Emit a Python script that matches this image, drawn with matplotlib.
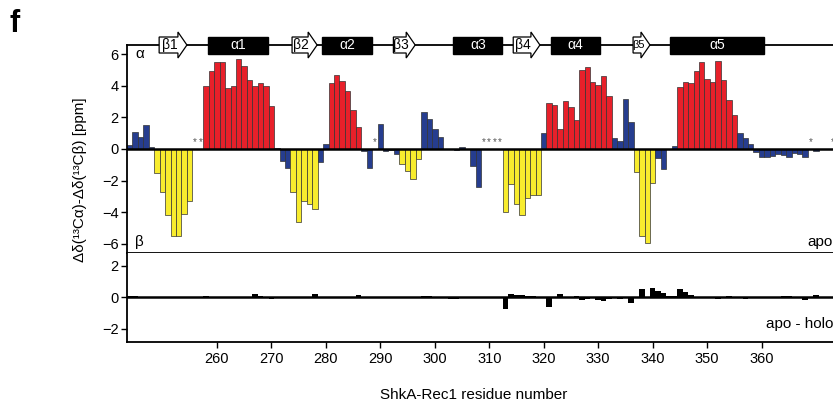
import matplotlib
matplotlib.use("Agg")
import matplotlib.pyplot as plt
import matplotlib.transforms as mtransforms
from matplotlib.patches import Polygon, Rectangle

plt.rcParams['font.family'] = ['Liberation Sans', 'DejaVu Sans']

# secondary chemical shifts (apo), residue -> value, class a=helix b=strand c=other
res_top = list(range(244, 256)) + list(range(258, 289)) + list(range(290, 302)) + [304, 305, 307, 308] \
    + list(range(313, 343)) + list(range(344, 369)) + [370]
shift_top = [0.25, 1.1, 0.78, 1.5, 0.1, -1.54, -2.74, -4.18, -5.5, -5.5, -4.1, -3.27,
             4.0, 4.96, 5.53, 5.49, 3.84, 4.0, 5.74, 5.27, 4.41, 4.0, 4.22, 4.0, 2.76,
             0.05, -0.76, -1.22, -2.74, -4.66, -3.27, -3.5, -3.8, -0.84, 0.32,
             4.22, 4.68, 4.32, 3.67, 2.47, 1.37, -0.13, -1.18,
             1.56, -0.1, -0.05, -0.34, -0.97, -1.37, -1.9, -0.65, 2.32, 1.9, 1.24, 0.74,
             -0.05, 0.1, -1.05, -2.43,
             -4.0, -2.24, -3.46, -4.18, -3.1, -2.95, -2.95, 0.99,
             2.95, 2.78, 1.24, 3.04, 2.68, 1.84, 5.0, 5.2, 4.26, 4.05, 4.62, 3.38,
             0.68, 0.51, 3.16, 1.71, -1.48, -5.55, -5.97, -2.15, -0.55, -1.29,
             0.21, 3.95, 4.26, 4.16, 4.96, 5.49, 4.43, 4.26, 5.57, 4.37, 3.14, 2.15,
             0.99, 0.68, 0.32, -0.21, -0.53, -0.49, -0.44, -0.34, -0.36, -0.49, -0.27, -0.32, -0.49,
             -0.1]
class_top = ("ccccc" "bbbbbbb"                          # 244-255
             "aaaaaaaaaaaaa" "ccc" "bbbbb" "cc" "aaaaaa" "cc"  # 258-288
             "cccc" "bbbb" "cccc"                       # 290-301
             "cccc"                                     # 304-308
             "bbbbbbb" "c" "aaaaaaaaaaaa" "cccc" "bbbb" "cc"  # 313-342
             "c" "aaaaaaaaaaa" "ccccccccccccc"          # 344-368
             "c")                                       # 370

missing_res = [256, 257, 289, 309, 310, 311, 312, 369, 373]

# apo - holo differences
res_diff = [244, 245, 251, 252, 258, 265, 267, 268, 270, 271, 278, 279, 284, 286, 295, 298, 299,
            303, 304, 313, 314, 315, 316, 317, 318, 321, 323, 326, 327, 328, 330, 331, 332, 334,
            336, 338, 339, 340, 341, 342, 343, 344, 345, 346, 347, 348, 352, 354, 357, 364, 365,
            368, 370]
val_diff = [0.1, 0.1, 0.03, 0.03, 0.1, -0.08, 0.2, 0.05, -0.1, -0.08, 0.17, 0.03, -0.08, 0.13,
            -0.06, 0.1, 0.1, -0.1, -0.1, -0.76, 0.19, 0.15, 0.15, 0.05, 0.05, -0.61, 0.19, 0.08,
            -0.17, -0.13, -0.19, -0.25, -0.1, -0.1, -0.4, 0.49, 0.02, 0.59, 0.4, 0.27, 0.05, 0.05,
            0.49, 0.32, 0.13, -0.05, -0.15, 0.1, -0.1, 0.08, 0.08, -0.19, 0.13]

# secondary structure topology: (type, start, end, label)
topology = [('b', 249.4, 254.5, 'β1'), ('a', 258.4, 269.4, 'α1'),
            ('b', 273.8, 278.4, 'β2'), ('a', 279.3, 288.5, 'α2'),
            ('b', 292.4, 296.4, 'β3'), ('a', 303.4, 312.4, 'α3'),
            ('b', 314.4, 319.3, 'β4'), ('a', 321.4, 330.3, 'α4'),
            ('b', 336.4, 339.5, 'β5'), ('a', 343.2, 360.4, 'α5')]

colors = {'a': '#E8202A', 'b': '#F8EC2E', 'c': '#263D8F'}

fig = plt.figure(figsize=(8.33, 4.08), dpi=100)
W, H = 833, 408
left, right = 127, 833
ax1 = fig.add_axes([left / W, (H - 253) / H, (right - left) / W, 208 / H])
ax2 = fig.add_axes([left / W, (H - 342) / H, (right - left) / W, 89 / H])

xlim = (243.5, 373.1)

# top panel
ax1.bar(res_top, shift_top, width=1.0, color=[colors[c] for c in class_top],
        edgecolor='#333333', linewidth=0.5, zorder=2)
ax1.axhline(0, color='k', lw=1.8, zorder=3)
for r in missing_res:
    ax1.text(r, 0.12, '*', ha='center', va='bottom', fontsize=7, color='#555555', clip_on=False)
ax1.set_xlim(*xlim)
ax1.set_ylim(-6.6, 6.6)
ax1.set_yticks([6, 4, 2, 0, -2, -4, -6])
ax1.set_xticks(range(260, 361, 20))
ax1.tick_params(axis='x', direction='out', length=4, width=1, labelbottom=False)
ax1.tick_params(axis='y', direction='out', length=4, width=1, labelsize=10.5, pad=2)
ax1.spines['right'].set_visible(False)
for s in ['left', 'top', 'bottom']:
    ax1.spines[s].set_linewidth(1.3)
ax1.text(0.012, 0.955, 'α', transform=ax1.transAxes, fontsize=11, va='center', ha='left')
ax1.text(0.012, 0.055, 'β', transform=ax1.transAxes, fontsize=11, va='center', ha='left')
ax1.text(1.0, 0.055, 'apo', transform=ax1.transAxes, fontsize=11, va='center', ha='right')

# topology drawing on the top spine
trans = mtransforms.blended_transform_factory(ax1.transData, ax1.transAxes)
body, head, box = 8 / 208, 13 / 208, 8.5 / 208
for kind, s, e, lab in topology:
    if kind == 'a':
        p = Rectangle((s, 1 - box), e - s, 2 * box, transform=trans, facecolor='black',
                      edgecolor='black', clip_on=False, zorder=5)
        ax1.add_patch(p)
        ax1.text((s + e) / 2, 1.0, lab, transform=trans, color='white', ha='center',
                 va='center', fontsize=10, clip_on=False, zorder=6)
    else:
        hl = 1.65
        pts = [(s, 1 - body), (e - hl, 1 - body), (e - hl, 1 - head), (e, 1),
               (e - hl, 1 + head), (e - hl, 1 + body), (s, 1 + body)]
        p = Polygon(pts, closed=True, transform=trans, facecolor='white', edgecolor='black',
                    linewidth=0.9, clip_on=False, zorder=5)
        ax1.add_patch(p)
        fs = 8 if lab == 'β5' else 10
        ax1.text((s + e - hl) / 2 + 0.2, 1.0, lab, transform=trans, color='black', ha='center',
                 va='center', fontsize=fs, clip_on=False, zorder=6)

# bottom panel
ax2.bar(res_diff, val_diff, width=1.0, color='black', zorder=2)
ax2.axhline(0, color='k', lw=1.8, zorder=3)
ax2.set_xlim(*xlim)
ax2.set_ylim(-2.85, 2.8)
ax2.set_yticks([2, 0, -2])
ax2.set_xticks(range(260, 361, 10))
ax2.tick_params(axis='x', direction='out', length=4, width=1, labelsize=10.5, pad=3)
ax2.tick_params(axis='y', direction='out', length=4, width=1, labelsize=10.5, pad=2)
ax2.spines['right'].set_visible(False)
ax2.spines['top'].set_visible(False)
for s in ['left', 'bottom']:
    ax2.spines[s].set_linewidth(1.3)
ax2.text(1.0, 0.2, 'apo - holo', transform=ax2.transAxes, fontsize=11, va='center', ha='right')

fig.text(80 / W, 1 - 180 / H, 'Δδ(¹³Cα)-Δδ(¹³Cβ) [ppm]', rotation=90, ha='center',
         va='center', fontsize=11)
fig.text(474 / W, 1 - 395 / H, 'ShkA-Rec1 residue number', ha='center', va='center', fontsize=11)
fig.text(10 / W, 1 - 24 / H, 'f', ha='left', va='center', fontsize=22, fontweight='bold')

fig.savefig('out.png', dpi=100)
